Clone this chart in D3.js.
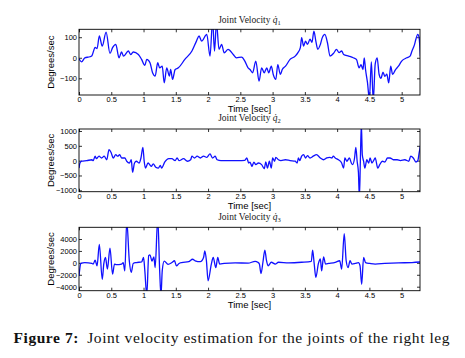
<!DOCTYPE html>
<html>
<head>
<meta charset="utf-8">
<script src="https://cdn.jsdelivr.net/npm/d3@7"></script>
<style>
  body { margin: 0; background: #fff; }
  .tick text { font-family: "Liberation Sans", Arial, sans-serif; font-size: 7.5px; fill: #000; }
  .tick line { stroke: #000; stroke-width: 0.8; }
  .lab { font-family: "Liberation Sans", Arial, sans-serif; font-size: 9.5px; fill: #000; }
  .ttl { font-family: "Liberation Serif", "Times New Roman", serif; font-size: 9.5px; fill: #222; }
  .cap { font-family: "Liberation Serif", "Times New Roman", serif; font-size: 15.5px; fill: #111; }
</style>
</head>
<body>
<div id="chart"></div>
<script>
// time ticks shared by all three panels
const timeTicks = [0, 0.5, 1, 1.5, 2, 2.5, 3, 3.5, 4, 4.5, 5];
const timeMax = 5.284;

// joint 1
const t1 = [0, 0.04, 0.09, 0.17, 0.2, 0.25, 0.28, 0.315, 0.36, 0.42, 0.48, 0.52, 0.57, 0.62, 0.66, 0.69, 0.765, 0.8, 0.84, 0.92,
    0.97, 1.02, 1.05, 1.1, 1.14, 1.18, 1.22, 1.25, 1.29, 1.32, 1.36, 1.40, 1.42, 1.45, 1.49, 1.54, 1.64, 1.75, 1.82, 1.86,
    1.9, 1.98, 2.03, 2.07, 2.10, 2.13, 2.17, 2.21, 2.25, 2.31, 2.39, 2.44, 2.52, 2.57, 2.62, 2.65, 2.69, 2.74, 2.79, 2.83,
    2.87, 2.91, 2.94, 2.98, 3.01, 3.05, 3.08, 3.12, 3.15, 3.2, 3.27, 3.35, 3.39, 3.43, 3.45, 3.48, 3.51, 3.54, 3.58, 3.61,
    3.64, 3.67, 3.70, 3.74, 3.77, 3.81, 3.85, 3.89, 3.95, 3.99, 4.03, 4.07, 4.1, 4.18, 4.25, 4.3, 4.34, 4.37, 4.40, 4.42,
    4.44, 4.47, 4.50, 4.53, 4.56, 4.59, 4.62, 4.65, 4.68, 4.71, 4.74, 4.77, 4.80, 4.83, 4.86, 4.9, 4.95, 5.0, 5.08, 5.13,
    5.16, 5.2, 5.22, 5.25, 5.27, 5.29];
const v1 = [-5, -20, 0, 5, 10, 50, 45, 106, 57, 125, 21, 49, 65, 0, 28, 8, 33, 16, 28, 16,
    -8, -37, -8, -24, -73, -89, -24, -49, -41, -122, -49, -89, -57, -105, -57, -49, -8, 33, 81, 106,
    81, 114, 8, 180, 33, 170, 41, 65, 24, 41, 16, 0, 3, -16, -49, -57, -73, -16, -114, -49,
    -73, -49, -73, -41, -81, -105, -33, -81, -57, -41, -8, 8, 24, 49, 98, 57, 81, 65, 90, 75,
    130, 81, 41, 65, 98, 114, 73, 8, 24, 41, 25, 33, 16, 8, 0, -8, -49, -33, -57, 0,
    -57, -120, -200, -20, -210, -30, 0, -80, -100, -70, -90, -80, -122, -41, -81, -60, -41, -16, 0, 8,
    33, 65, 90, 114, 98, 8];
const ticks1 = [-100, 0, 100];

// joint 2
const t2 = [0, 0.015, 0.04, 0.12, 0.2, 0.22, 0.25, 0.27, 0.31, 0.35, 0.39, 0.43, 0.465, 0.5, 0.53, 0.57, 0.6, 0.63, 0.66, 0.71,
    0.74, 0.78, 0.81, 0.83, 0.86, 0.89, 0.93, 0.96, 0.99, 1.01, 1.03, 1.07, 1.12, 1.15, 1.19, 1.23, 1.26, 1.28, 1.33, 1.39,
    1.44, 1.49, 1.52, 1.55, 1.62, 1.68, 1.73, 1.75, 1.79, 1.83, 1.88, 1.93, 1.98, 2.03, 2.07, 2.11, 2.14, 2.2, 2.32, 2.47,
    2.57, 2.6, 2.63, 2.65, 2.68, 2.71, 2.74, 2.78, 2.83, 2.87, 2.895, 2.92, 2.95, 2.98, 3.0, 3.03, 3.05, 3.09, 3.13, 3.2,
    3.27, 3.35, 3.38, 3.4, 3.42, 3.45, 3.48, 3.51, 3.54, 3.58, 3.63, 3.68, 3.74, 3.79, 3.84, 3.88, 3.92, 3.94, 3.97, 4.02,
    4.07, 4.1, 4.12, 4.15, 4.19, 4.22, 4.24, 4.27, 4.29, 4.31, 4.33, 4.345, 4.36, 4.375, 4.39, 4.41, 4.43, 4.46, 4.49, 4.51,
    4.54, 4.565, 4.59, 4.63, 4.66, 4.7, 4.74, 4.78, 4.82, 4.87, 4.93, 4.98, 5.05, 5.11, 5.14, 5.18, 5.22, 5.25, 5.27, 5.29];
const v2 = [-250, -80, -20, 0, 30, 0, 150, 65, 150, 90, 150, 30, 370, 260, 90, 200, 150, 200, 90, 90,
    -20, -80, 30, -390, -80, -20, -80, 90, 450, -20, -250, -80, -190, -110, -220, -250, -160, -250, -45, 65,
    65, 0, 90, 0, 65, -20, 30, 150, 90, 150, 90, 150, 110, 225, 90, 150, 30, 0, 0, 0,
    10, 90, -80, -50, -190, -50, -135, -80, -135, -270, -45, -250, -20, -250, 90, -20, 110, 30, 0, 30,
    0, -20, -80, 90, 0, 150, 200, 90, 170, 90, 150, 200, 90, 30, 90, 110, 90, 150, 90, 30,
    -80, -250, 90, -20, 90, -80, -135, 90, 450, -20, -400, -1250, 0, 1250, 200, -20, -250, 30, -80, 90,
    -80, 0, 90, -250, -135, -20, -45, 90, 90, 30, 30, 0, 30, -20, 150, 90, -45, 0, 250, 500];
const ticks2 = [-1000, -500, 0, 500, 1000];

// joint 3
const t3 = [0, 0.03, 0.09, 0.2, 0.22, 0.25, 0.28, 0.315, 0.36, 0.385, 0.41, 0.44, 0.48, 0.52, 0.55, 0.58, 0.66, 0.685, 0.71, 0.74,
    0.78, 0.81, 0.84, 0.89, 0.97, 1.0, 1.02, 1.05, 1.08, 1.1, 1.13, 1.16, 1.18, 1.22, 1.25, 1.27, 1.29, 1.32, 1.38, 1.44,
    1.48, 1.51, 1.55, 1.59, 1.7, 1.76, 1.8, 1.88, 1.93, 1.95, 1.975, 2.0, 2.05, 2.08, 2.12, 2.15, 2.18, 2.25, 2.42, 2.62,
    2.73, 2.77, 2.795, 2.82, 2.85, 2.88, 2.905, 2.93, 2.98, 3.04, 3.09, 3.25, 3.45, 3.6, 3.62, 3.645, 3.67, 3.71, 3.74, 3.76,
    3.79, 3.82, 3.87, 3.97, 4.04, 4.07, 4.11, 4.14, 4.17, 4.2, 4.23, 4.28, 4.33, 4.355, 4.38, 4.41, 4.44, 4.51, 4.59, 4.74,
    4.95, 5.16, 5.29];
const v3 = [-2200, -100, 50, -100, -200, 450, -500, 3100, -2750, -100, 900, -1050, 2450, -1900, -200, -300, -200, 50, -1350, 7000,
    300, -1600, -100, 50, 150, 900, -1300, -5500, 1200, 1350, 300, 1000, -800, 7500, -1300, -5500, -1300, 300, -250, 50,
    350, -500, -100, 50, 200, 600, 350, 200, 900, 2000, 300, -3000, -250, 900, -800, 900, -200, -100, 0, -50,
    250, 100, -200, -1800, 100, 2150, 400, -500, 100, -200, 100, 0, 100, 250, 2150, -200, -2450, -100, 650, -1350,
    1000, -200, -100, 100, 350, -1050, 4900, 350, -800, 350, -200, -100, 50, -500, -3600, 900, 50, -100, -200, -100,
    0, 50, 150];
const ticks3 = [-4000, -2000, 0, 2000, 4000];

const width = 465, height = 358;
const left = 79, right = 420;

const svg = d3.select("#chart").append("svg")
    .attr("width", width)
    .attr("height", height);

const x = d3.scaleLinear().domain([0, timeMax]).range([left, right]);

function drawPanel(i, t, v, yTicks, yDomain, top, bottom, titleY, sub) {
    let y = d3.scaleLinear().domain(yDomain).range([bottom, top]);
    let pts = t.map((d, k) => [d, v[k]]);

    let g = svg.append("g");

    g.append("defs").append("clipPath")
        .attr("id", "clip" + i)
        .append("rect")
        .attr("x", left).attr("y", top)
        .attr("width", right - left).attr("height", bottom - top);

    // bottom / left axes with labels, ticks pointing inwards
    g.append("g")
        .attr("transform", "translate(0," + bottom + ")")
        .call(d3.axisBottom(x).tickValues(timeTicks).tickFormat(d3.format("")).tickSizeInner(-3).tickSizeOuter(0).tickPadding(2))
        .call(a => a.select(".domain").remove());
    g.append("g")
        .attr("transform", "translate(" + left + ",0)")
        .call(d3.axisLeft(y).tickValues(yTicks).tickFormat(d3.format("d")).tickSizeInner(-3).tickSizeOuter(0).tickPadding(2))
        .call(a => a.select(".domain").remove());
    // mirrored ticks on top / right
    g.append("g")
        .attr("transform", "translate(0," + top + ")")
        .call(d3.axisTop(x).tickValues(timeTicks).tickFormat("").tickSizeInner(-3).tickSizeOuter(0))
        .call(a => a.select(".domain").remove());
    g.append("g")
        .attr("transform", "translate(" + right + ",0)")
        .call(d3.axisRight(y).tickValues(yTicks).tickFormat("").tickSizeInner(-3).tickSizeOuter(0))
        .call(a => a.select(".domain").remove());

    g.selectAll(".tick text").attr("font-family", null).attr("font-size", null);

    g.append("path")
        .datum(pts)
        .attr("clip-path", "url(#clip" + i + ")")
        .attr("fill", "none")
        .attr("stroke", "#1010ff")
        .attr("stroke-width", 1.3)
        .attr("stroke-linejoin", "round")
        .attr("d", d3.line().curve(d3.curveMonotoneX).x(d => x(d[0])).y(d => y(d[1])));

    g.append("rect")
        .attr("x", left).attr("y", top)
        .attr("width", right - left).attr("height", bottom - top)
        .attr("fill", "none")
        .attr("stroke", "#000")
        .attr("stroke-width", 0.9);

    // title
    let tt = g.append("text")
        .attr("class", "ttl")
        .attr("x", (left + right) / 2)
        .attr("y", titleY)
        .attr("text-anchor", "middle");
    tt.append("tspan").text("Joint Velocity ");
    tt.append("tspan").attr("font-style", "italic").text("q\u0307");
    tt.append("tspan").attr("font-size", "6.5px").attr("dy", 2).text(sub);

    g.append("text")
        .attr("class", "lab")
        .attr("x", (left + right) / 2)
        .attr("y", bottom + 17)
        .attr("text-anchor", "middle")
        .text("Time [sec]");

    g.append("text")
        .attr("class", "lab")
        .attr("transform", "translate(54," + ((top + bottom) / 2) + ") rotate(-90)")
        .attr("text-anchor", "middle")
        .text("Degrees/sec");
}

drawPanel(1, t1, v1, ticks1, [-181, 138.5], 29.3, 95, 22.7, "1");
drawPanel(2, t2, v2, ticks2, [-1047, 1067], 129, 191.7, 120.5, "2");
drawPanel(3, t3, v3, ticks3, [-4673, 5965], 227.3, 290.7, 219.8, "3");

// figure caption
let cap = svg.append("text")
    .attr("class", "cap")
    .attr("x", 13.5)
    .attr("y", 342.5)
    .attr("textLength", 436)
    .attr("lengthAdjust", "spacing");
cap.append("tspan").attr("font-weight", "bold").text("Figure 7:");
cap.append("tspan").text("\u2002Joint velocity estimation for the joints of the right leg");
</script>
</body>
</html>
